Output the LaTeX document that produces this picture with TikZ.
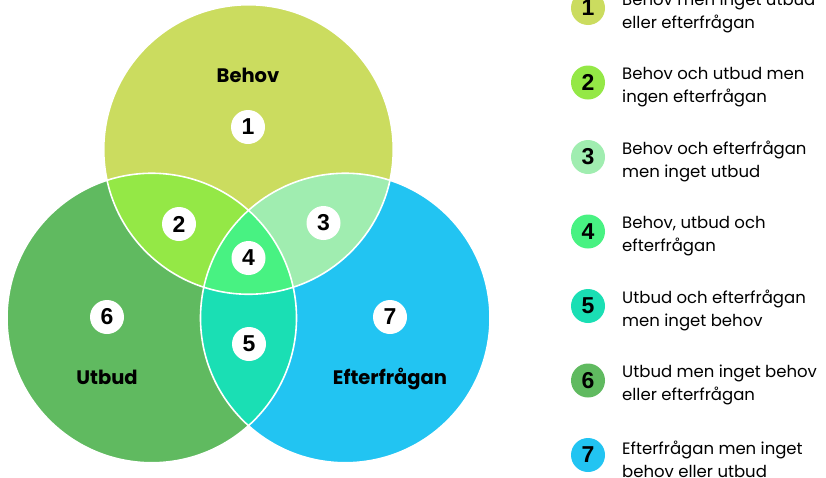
\documentclass[tikz,border=0pt]{standalone}
\usepackage{fontspec}
\setmainfont{Poppins}
\newfontfamily\numfont{Liberation Sans}

\definecolor{behovcol}{HTML}{CBDC5F}
\definecolor{behovutbudcol}{HTML}{94E846}
\definecolor{behovefterfcol}{HTML}{A0EDB0}
\definecolor{allacol}{HTML}{48F282}
\definecolor{utbudefterfcol}{HTML}{1ADFB4}
\definecolor{utbudcol}{HTML}{60BA60}
\definecolor{efterfcol}{HTML}{22C4F2}

\begin{document}
\begin{tikzpicture}[x=1pt, y=-1pt,
    badge/.style={circle, fill=white, minimum size=34pt, inner sep=0pt,
        font=\numfont\bfseries\fontsize{23}{23}\selectfont},
    setlabel/.style={anchor=base, font=\bfseries\fontsize{19.5}{19.5}\selectfont},
    legendtext/.style={anchor=west, align=left, inner sep=0pt,
        font=\fontsize{16.5}{23}\selectfont}]

    \useasboundingbox (0,0) rectangle (826,477);

    % --- Coordinates ---
    % Centres of the three circles, same radius
    \coordinate (TopC)   at (248.5,149.5);  % Behov
    \coordinate (LeftC)  at (151.75,318);   % Utbud
    \coordinate (RightC) at (345.25,318);   % Efterfrågan
    \def\rad{144.75pt}

    % --- Fill the circles ---
    \fill[behovcol] (TopC) circle[radius=\rad];
    \fill[utbudcol] (LeftC) circle[radius=\rad];
    \fill[efterfcol] (RightC) circle[radius=\rad];

    % --- Fill the overlaps ---
    \begin{scope}
        \clip (TopC) circle[radius=\rad];
        \fill[behovutbudcol] (LeftC) circle[radius=\rad];
        \fill[behovefterfcol] (RightC) circle[radius=\rad];
    \end{scope}
    \begin{scope}
        \clip (LeftC) circle[radius=\rad];
        \fill[utbudefterfcol] (RightC) circle[radius=\rad];
    \end{scope}
    \begin{scope}
        \clip (TopC) circle[radius=\rad];
        \clip (LeftC) circle[radius=\rad];
        \fill[allacol] (RightC) circle[radius=\rad];
    \end{scope}

    % --- White borders ---
    \draw[white, line width=1.6pt] (TopC) circle[radius=\rad]
        (LeftC) circle[radius=\rad] (RightC) circle[radius=\rad];

    % --- Set labels ---
    \node[setlabel] (behov) at (248,82) {Behov};
    \node[setlabel] (utbud) at (107,384) {Utbud};
    \node[setlabel] (efterf) at (390,384) {Efterfrågan};

    % --- Region numbers ---
    \node[badge] (r1) at (248,127) {1};
    \node[badge] (r2) at (179,224) {2};
    \node[badge] (r3) at (323.5,223) {3};
    \node[badge] (r4) at (248.5,258) {4};
    \node[badge] (r5) at (249,344) {5};
    \node[badge] (r6) at (107,317) {6};
    \node[badge] (r7) at (390,317) {7};

    % --- Legend ---
    \foreach \i/\col/\first/\second in {
        1/behovcol/Behov men inget utbud/eller efterfrågan,
        2/behovutbudcol/Behov och utbud men/ingen efterfrågan,
        3/behovefterfcol/Behov och efterfrågan/men inget utbud,
        4/allacol/{Behov, utbud och}/efterfrågan,
        5/utbudefterfcol/Utbud och efterfrågan/men inget behov,
        6/utbudcol/Utbud men inget behov/eller efterfrågan,
        7/efterfcol/Efterfrågan men inget/behov eller utbud} {
        \node[badge, fill=\col] (key\i) at (588,{8+74.5*(\i-1)}) {\i};
        \node[legendtext] (keytext\i) at (622,{12.5+74.5*(\i-1)}) {\first\\\second};
    }

\end{tikzpicture}
\end{document}
